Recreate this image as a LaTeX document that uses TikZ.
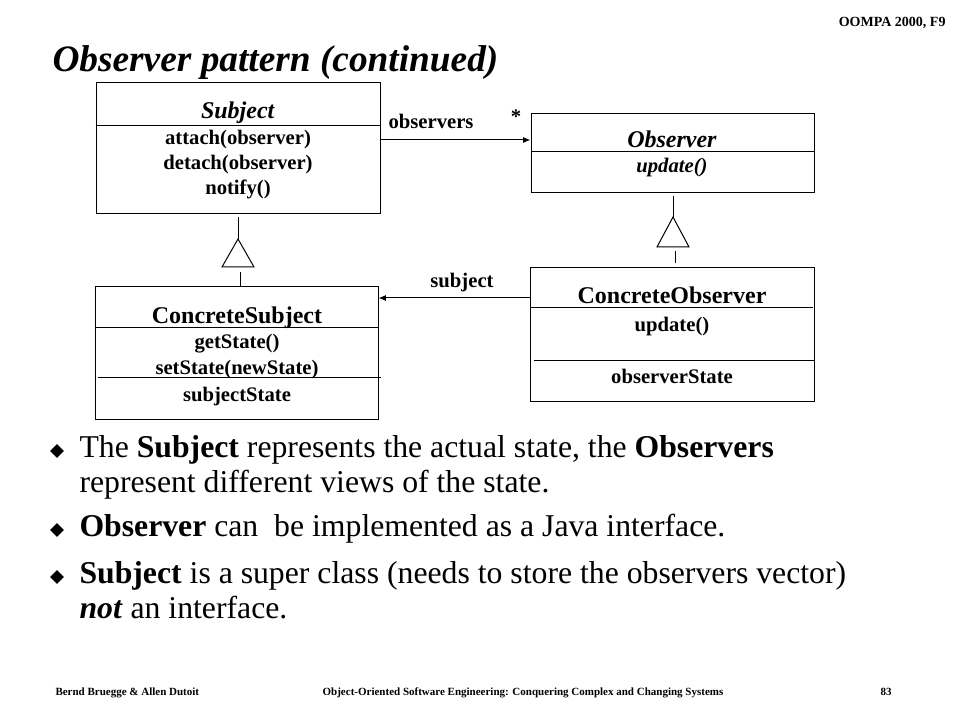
\documentclass[tikz,border=0pt]{standalone}
\usepackage{fontspec}
\setmainfont{Liberation Serif}
\usetikzlibrary{arrows.meta,fit,shapes.geometric}
\begin{document}
\begin{tikzpicture}[x=0.75pt,y=-0.75pt,line width=0.75pt,
  umlbox/.style={draw,inner sep=0pt},
  cname/.style={anchor=base,inner sep=0pt,font=\fontsize{18}{20}\selectfont\bfseries},
  member/.style={anchor=base,inner sep=0pt,font=\fontsize{15.5}{18}\selectfont\bfseries},
  lbl/.style={anchor=base,inner sep=0pt,font=\fontsize{15.5}{18}\selectfont\bfseries},
  assoc/.style={-{Latex[length=5.5pt,width=4.5pt]}},
  btext/.style={anchor=base west,inner sep=0pt,font=\fontsize{23.8}{26}\selectfont},
  bulletmark/.style={diamond,fill=black,inner sep=0pt,minimum width=10.5pt,minimum height=10.5pt},
  gentri/.style={draw,fill=white}]
\fill[white] (0,0) rectangle (960,720);
\useasboundingbox (0,0) rectangle (960,720);

% header and title
\node[anchor=base east,inner sep=0pt,font=\fontsize{10.5}{12}\selectfont\bfseries] (hdr) at (946,27) {OOMPA 2000, F9};
\node[anchor=base west,inner sep=0pt,font=\fontsize{28}{30}\selectfont\bfseries\itshape] (title) at (52,72) {Observer pattern (continued)};

% Subject
\node[umlbox,fit={(96,83) (380,214)}] (subj) {};
\draw (subj.west |- 0,126) -- (subj.east |- 0,126);
\node[cname] (subjn) at (238,119) {\textit{Subject}};
\node[member] (subj1) at (238,145) {attach(observer)};
\node[member] (subj2) at (238,170) {detach(observer)};
\node[member] (subj3) at (238,195) {notify()};

% Observer
\node[umlbox,fit={(531,114) (814,193)}] (obs) {};
\draw (obs.west |- 0,152) -- (obs.east |- 0,152);
\node[cname] (obsn) at (672,148) {\textit{Observer}};
\node[member] (obs1) at (672,173) {\textit{update()}};

% ConcreteSubject
\node[umlbox,fit={(95,287) (378,419)}] (csubj) {};
\draw (csubj.west |- 0,327) -- (csubj.east |- 0,327);
\draw (98,377) -- (381,377);
\node[cname] (csubjn) at (237,323) {ConcreteSubject};
\node[member] (csubj1) at (237,348) {getState()};
\node[member] (csubj2) at (237,374) {setState(newState)};
\node[member] (csubj3) at (237,401) {subjectState};

% ConcreteObserver
\node[umlbox,fit={(530,268) (814,401)}] (cobs) {};
\draw (cobs.west |- 0,308) -- (813,308);
\draw (534,360) -- (815,360);
\node[cname] (cobsn) at (672,304) {ConcreteObserver};
\node[member] (cobs1) at (672,331) {update()};
\node[member] (cobs3) at (672,383) {observerState};

% associations
\draw[assoc] (subj.east |- 0,140) -- (obs.west |- 0,140);
\node[lbl] (lobs) at (431,129) {observers};
\node[lbl] (lstar) at (516,124) {*};
\draw[assoc] (cobs.west |- 0,298) -- (csubj.east |- 0,298);
\node[lbl] (lsub) at (462,287) {subject};

% generalization Subject <- ConcreteSubject
\coordinate (t1) at (238,239);
\draw (238,217) -- (t1);
\draw[gentri] (t1) -- (254,267) -- (222,267) -- cycle;
\draw (240,272) -- (csubj.north -| 240,0);
% generalization Observer <- ConcreteObserver
\coordinate (t2) at (673,217);
\draw (673,196) -- (t2);
\draw[gentri] (t2) -- (689,247) -- (657,247) -- cycle;
\draw (675,251) -- (675,263);

% bullets
\node[bulletmark] (bm1) at (57,451) {};
\node[btext] (l1) at (79,457) {The \textbf{Subject} represents the actual state, the \textbf{Observers}};
\node[btext] (l2) at (79,492) {represent different views of the state.};
\node[bulletmark] (bm2) at (57,530) {};
\node[btext] (l3) at (79,536) {\textbf{Observer} can\ \ be implemented as a Java interface.};
\node[bulletmark] (bm3) at (57,577) {};
\node[btext] (l4) at (79,583) {\textbf{Subject} is a super class (needs to store the observers vector)};
\node[btext] (l5) at (79,618) {\textbf{\textit{not}} an interface.};

% footer
\node[anchor=base west,inner sep=0pt,font=\fontsize{8.25}{10}\selectfont\bfseries] (f1) at (55,695) {Bernd Bruegge \& Allen Dutoit};
\node[anchor=base,inner sep=0pt,font=\fontsize{8.25}{10}\selectfont\bfseries] (f2) at (523,695) {Object-Oriented Software Engineering: Conquering Complex and Changing Systems};
\node[anchor=base,inner sep=0pt,font=\fontsize{8.25}{10}\selectfont\bfseries] (f3) at (886,695) {83};
\end{tikzpicture}
\end{document}
